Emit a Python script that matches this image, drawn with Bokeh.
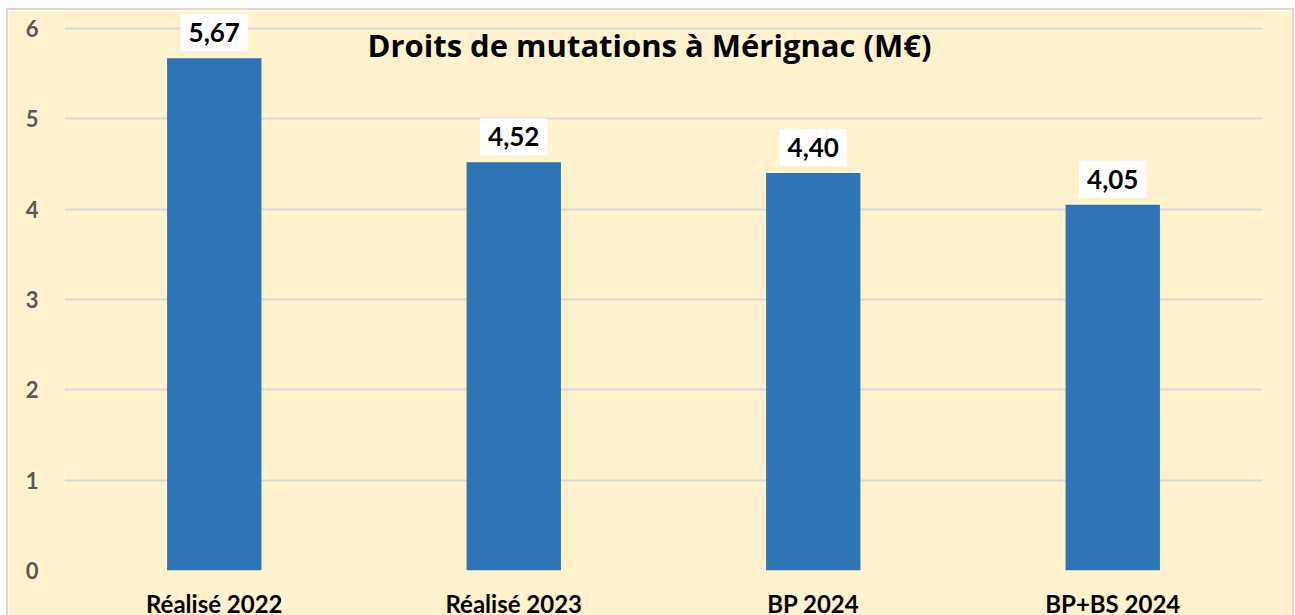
from bokeh.plotting import figure
from bokeh.models import Label, FactorRange, Range1d, FixedTicker
from bokeh.embed import file_html
from bokeh.resources import INLINE

categories = ["Réalisé 2022", "Réalisé 2023", "BP 2024", "BP+BS 2024"]
values = [5.67, 4.52, 4.40, 4.05]
value_labels = ["5,67", "4,52", "4,40", "4,05"]
title_text = "Droits de mutations à Mérignac (M€)"

FONT = "Lato"
BG = "#FFF2CC"

p = figure(x_range=FactorRange(*categories), y_range=Range1d(0, 6.2),
           frame_width=1198, frame_height=560,
           output_backend="svg", toolbar_location=None,
           min_border_left=56, min_border_right=30, min_border_top=0, min_border_bottom=43)
p.background_fill_color = BG
p.border_fill_color = BG
p.outline_line_color = None
p.styles = {"border": "2px solid #D9D9D9", "margin-top": "8px", "margin-left": "6px"}

p.vbar(x=categories, top=values, width=0.315, color="#2E75B6", line_color=None)

p.xgrid.grid_line_color = None
p.ygrid.grid_line_color = "#D9D9D9"
p.ygrid.grid_line_width = 2
p.yaxis.ticker = FixedTicker(ticks=[0, 1, 2, 3, 4, 5, 6])
p.yaxis.axis_line_color = None
p.yaxis.major_tick_line_color = None
p.yaxis.minor_tick_line_color = None
p.yaxis.major_label_text_font = FONT
p.yaxis.major_label_text_font_style = "bold"
p.yaxis.major_label_text_font_size = "22px"
p.yaxis.major_label_text_color = "#595959"
p.yaxis.major_label_standoff = 20

p.xaxis.axis_line_color = None
p.xaxis.major_tick_line_color = None
p.xaxis.major_label_text_font = FONT
p.xaxis.major_label_text_font_style = "bold"
p.xaxis.major_label_text_font_size = "24px"
p.xaxis.major_label_text_color = "black"
p.xaxis.major_label_standoff = 12

# FactorRange synthetic coordinates: factor i is centred at i + 0.5
for i, (v, t) in enumerate(zip(values, value_labels)):
    p.add_layout(Label(x=i + 0.5, y=v, text=t, y_offset=7, text_align="center",
                       text_baseline="bottom", text_font=FONT, text_font_style="bold",
                       text_font_size="26px", text_color="black",
                       background_fill_color="white",
                       padding=dict(left=8, right=8, top=9, bottom=9)))

p.add_layout(Label(x=585, y=526, x_units="screen", y_units="screen", text=title_text,
                   text_align="center", text_baseline="middle", text_font="Open Sans",
                   text_font_style="bold", text_font_size="31px", text_color="black"))

open("out.html", "w").write(file_html(p, INLINE))
